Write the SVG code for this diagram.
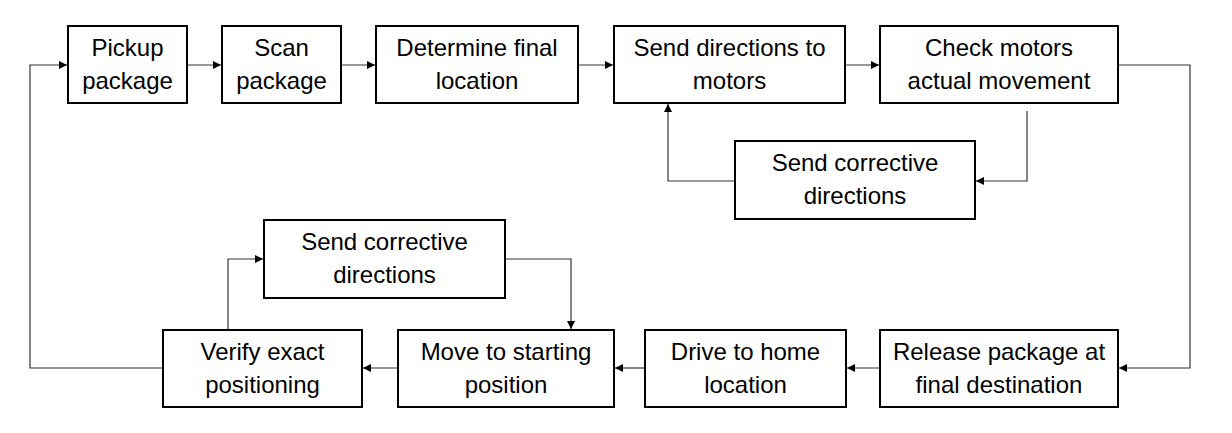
<svg xmlns="http://www.w3.org/2000/svg" width="1232" height="433" viewBox="0 0 1232 433">
<style>
.box{fill:#fff;stroke:#000;stroke-width:2}
.t{font-family:"Liberation Sans",Arial,sans-serif;font-size:24px;fill:#000;text-anchor:middle}
.c{fill:none;stroke:#333;stroke-width:1.2}
</style>
<defs>
<marker id="ah" viewBox="0 0 10 10" refX="10" refY="5" markerWidth="8" markerHeight="8" markerUnits="userSpaceOnUse" orient="auto">
<path d="M0,0 L10,5 L0,10 z" fill="#000"/>
</marker>
</defs>
<rect width="1232" height="433" fill="#fff"/>
<g id="connectors">
<path class="c" d="M187,65 H221" marker-end="url(#ah)"/>
<path class="c" d="M341,65 H375" marker-end="url(#ah)"/>
<path class="c" d="M578,65 H613" marker-end="url(#ah)"/>
<path class="c" d="M845,65 H879" marker-end="url(#ah)"/>
<path class="c" d="M1118,65 H1190 V368 H1119" marker-end="url(#ah)"/>
<path class="c" d="M1027,111 V181 H976" marker-end="url(#ah)"/>
<path class="c" d="M735,181 H668 V104" marker-end="url(#ah)"/>
<path class="c" d="M880,368 H847" marker-end="url(#ah)"/>
<path class="c" d="M645,368 H615" marker-end="url(#ah)"/>
<path class="c" d="M398,368 H363" marker-end="url(#ah)"/>
<path class="c" d="M163,368 H30 V65 H67" marker-end="url(#ah)"/>
<path class="c" d="M228,330 V259 H263" marker-end="url(#ah)"/>
<path class="c" d="M505,259 H571 V329" marker-end="url(#ah)"/>
</g>
<g id="pickup"><rect class="box" x="68" y="26" width="119" height="77"/><text class="t" x="127.5" y="56">Pickup</text><text class="t" x="127.5" y="89">package</text></g>
<g id="scan"><rect class="box" x="222" y="26" width="119" height="77"/><text class="t" x="281.5" y="56">Scan</text><text class="t" x="281.5" y="89">package</text></g>
<g id="determine"><rect class="box" x="376" y="26" width="202" height="77"/><text class="t" x="477" y="56">Determine final</text><text class="t" x="477" y="89">location</text></g>
<g id="senddir"><rect class="box" x="614" y="26" width="231" height="77"/><text class="t" x="729.5" y="56">Send directions to</text><text class="t" x="729.5" y="89">motors</text></g>
<g id="check"><rect class="box" x="880" y="26" width="238" height="77"/><text class="t" x="999" y="56">Check motors</text><text class="t" x="999" y="89">actual movement</text></g>
<g id="corrective1"><rect class="box" x="735" y="141" width="240" height="78"/><text class="t" x="855" y="171">Send corrective</text><text class="t" x="855" y="204">directions</text></g>
<g id="corrective2"><rect class="box" x="264" y="220" width="241" height="78"/><text class="t" x="384.5" y="250">Send corrective</text><text class="t" x="384.5" y="283">directions</text></g>
<g id="verify"><rect class="box" x="163" y="330" width="199" height="77"/><text class="t" x="262.5" y="360">Verify exact</text><text class="t" x="262.5" y="393">positioning</text></g>
<g id="move"><rect class="box" x="398" y="330" width="216" height="77"/><text class="t" x="506" y="360">Move to starting</text><text class="t" x="506" y="393">position</text></g>
<g id="drive"><rect class="box" x="645" y="330" width="201" height="77"/><text class="t" x="745.5" y="360">Drive to home</text><text class="t" x="745.5" y="393">location</text></g>
<g id="release"><rect class="box" x="880" y="330" width="238" height="77"/><text class="t" x="999" y="360">Release package at</text><text class="t" x="999" y="393">final destination</text></g>
</svg>
